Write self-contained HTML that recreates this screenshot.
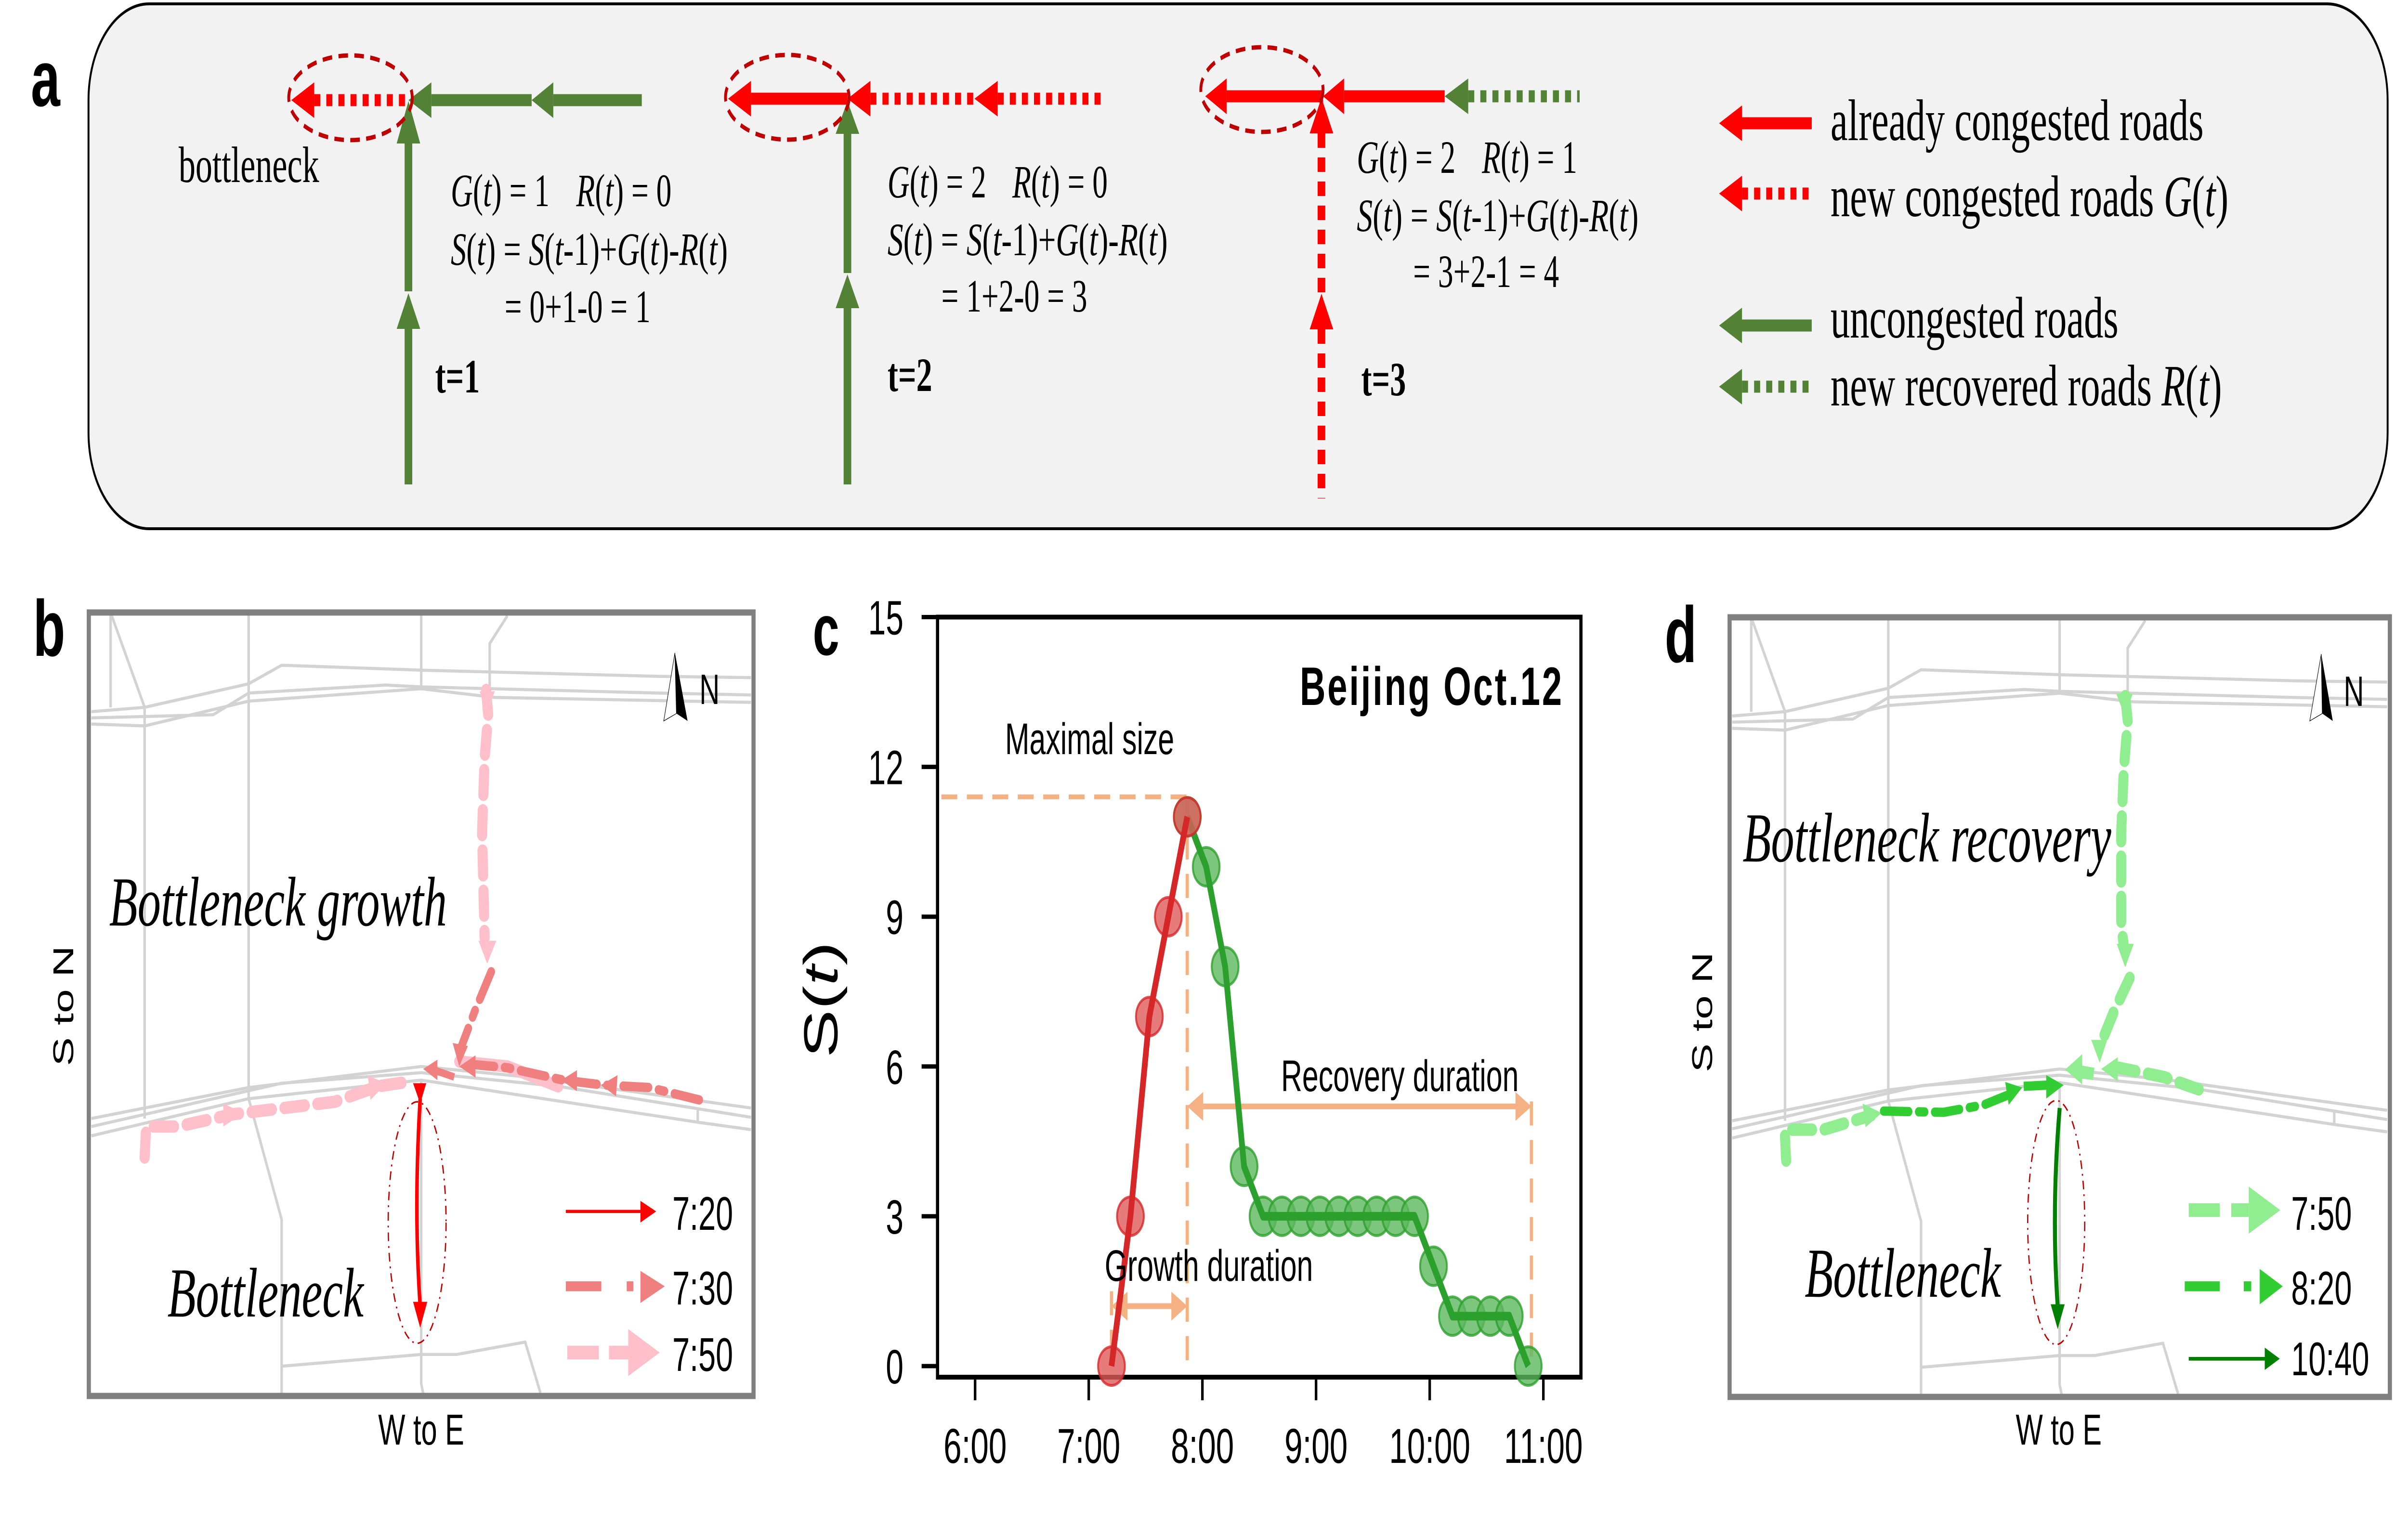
<!DOCTYPE html>
<html><head><meta charset="utf-8"><style>
html,body{margin:0;padding:0;background:#fff;width:100%;height:100%;overflow:hidden;}
svg{display:block;width:100vw;height:100vh;}
.serif{font-family:"Liberation Serif",serif;}
.sans{font-family:"Liberation Sans",sans-serif;}
</style></head><body>
<svg id="fig" viewBox="0 0 7564 3167" preserveAspectRatio="none" xmlns="http://www.w3.org/2000/svg">
<rect x="0" y="0" width="7564" height="3167" fill="#fff"/>

<!-- ============ PANEL A ============ -->
<g>
<text x="97" y="220" class="sans" font-weight="bold" font-size="165">a</text>
<rect x="278" y="8" width="7222" height="1090" rx="190" ry="200" fill="#f2f2f2" stroke="#000" stroke-width="6"/>

<g>
<line x1="1283" y1="298" x2="1283" y2="605" stroke="#538135" stroke-width="24"/>
<polygon points="1283,210 1246,298 1320,298" fill="#538135"/>
<line x1="1283" y1="683" x2="1283" y2="1006" stroke="#538135" stroke-width="24"/>
<polygon points="1283,609 1246,683 1320,683" fill="#538135"/>
<line x1="1355" y1="208" x2="1670" y2="208" stroke="#538135" stroke-width="25"/>
<polygon points="1283,208 1355,171 1355,245" fill="#538135"/>
<line x1="1738" y1="208" x2="2016" y2="208" stroke="#538135" stroke-width="25"/>
<polygon points="1670,208 1738,171 1738,245" fill="#538135"/>
<line x1="987" y1="208" x2="1283" y2="208" stroke="#ff0000" stroke-width="25" stroke-dasharray="19 19"/>
<polygon points="915,208 987,171 987,245" fill="#ff0000"/>
<ellipse cx="1101" cy="203" rx="194" ry="88" fill="none" stroke="#c00000" stroke-width="9" stroke-dasharray="30 20"/>
<text x="561" y="378" class="serif" font-size="106">bottleneck</text>
<text x="1416" y="428" class="serif" font-size="96"><tspan font-style="italic">G</tspan>(<tspan font-style="italic">t</tspan>) = 1<tspan x="1810" font-style="italic">R</tspan>(<tspan font-style="italic">t</tspan>) = 0</text>
<text x="1416" y="550" class="serif" font-size="96" textLength="870" lengthAdjust="spacingAndGlyphs"><tspan font-style="italic">S</tspan>(<tspan font-style="italic">t</tspan>) = <tspan font-style="italic">S</tspan>(<tspan font-style="italic">t</tspan>-1)+<tspan font-style="italic">G</tspan>(<tspan font-style="italic">t</tspan>)-<tspan font-style="italic">R</tspan>(<tspan font-style="italic">t</tspan>)</text>
<text x="1585" y="669" class="serif" font-size="96">= 0+1-0 = 1</text>
<text x="1367" y="815" class="serif" font-size="100" font-weight="bold">t=1</text>
</g>

<g>
<line x1="2662" y1="278" x2="2662" y2="567" stroke="#538135" stroke-width="24"/>
<polygon points="2662,210 2625,278 2699,278" fill="#538135"/>
<line x1="2662" y1="640" x2="2662" y2="1006" stroke="#538135" stroke-width="24"/>
<polygon points="2662,570 2625,640 2699,640" fill="#538135"/>
<line x1="2359" y1="205" x2="2662" y2="205" stroke="#ff0000" stroke-width="25"/>
<polygon points="2287,205 2359,168 2359,242" fill="#ff0000"/>
<line x1="2734" y1="205" x2="3061" y2="205" stroke="#ff0000" stroke-width="25" stroke-dasharray="19 19"/>
<polygon points="2662,205 2734,168 2734,242" fill="#ff0000"/>
<line x1="3134" y1="205" x2="3473" y2="205" stroke="#ff0000" stroke-width="25" stroke-dasharray="19 19"/>
<polygon points="3061,205 3134,168 3134,242" fill="#ff0000"/>
<ellipse cx="2473" cy="202" rx="194" ry="88" fill="none" stroke="#c00000" stroke-width="9" stroke-dasharray="30 20"/>
<text x="2788" y="410" class="serif" font-size="96"><tspan font-style="italic">G</tspan>(<tspan font-style="italic">t</tspan>) = 2<tspan x="3180" font-style="italic">R</tspan>(<tspan font-style="italic">t</tspan>) = 0</text>
<text x="2788" y="530" class="serif" font-size="96" textLength="880" lengthAdjust="spacingAndGlyphs"><tspan font-style="italic">S</tspan>(<tspan font-style="italic">t</tspan>) = <tspan font-style="italic">S</tspan>(<tspan font-style="italic">t</tspan>-1)+<tspan font-style="italic">G</tspan>(<tspan font-style="italic">t</tspan>)-<tspan font-style="italic">R</tspan>(<tspan font-style="italic">t</tspan>)</text>
<text x="2957" y="647" class="serif" font-size="96">= 1+2-0 = 3</text>
<text x="2788" y="812" class="serif" font-size="100" font-weight="bold">t=2</text>
</g>

<g>
<line x1="4151" y1="277" x2="4151" y2="610" stroke="#ff0000" stroke-width="24" stroke-dasharray="30 20"/>
<polygon points="4151,203 4114,277 4188,277" fill="#ff0000"/>
<line x1="4151" y1="684" x2="4151" y2="1035" stroke="#ff0000" stroke-width="24" stroke-dasharray="30 20"/>
<polygon points="4151,610 4114,684 4188,684" fill="#ff0000"/>
<line x1="3853" y1="200" x2="4156" y2="200" stroke="#ff0000" stroke-width="25"/>
<polygon points="3786,200 3853,163 3853,237" fill="#ff0000"/>
<line x1="4222" y1="200" x2="4538" y2="200" stroke="#ff0000" stroke-width="25"/>
<polygon points="4156,200 4222,163 4222,237" fill="#ff0000"/>
<line x1="4612" y1="200" x2="4962" y2="200" stroke="#538135" stroke-width="25" stroke-dasharray="19 19"/>
<polygon points="4538,200 4612,163 4612,237" fill="#538135"/>
<ellipse cx="3964" cy="186" rx="192" ry="88" fill="none" stroke="#c00000" stroke-width="9" stroke-dasharray="30 20"/>
<text x="4262" y="359" class="serif" font-size="96"><tspan font-style="italic">G</tspan>(<tspan font-style="italic">t</tspan>) = 2<tspan x="4655" font-style="italic">R</tspan>(<tspan font-style="italic">t</tspan>) = 1</text>
<text x="4262" y="480" class="serif" font-size="96" textLength="885" lengthAdjust="spacingAndGlyphs"><tspan font-style="italic">S</tspan>(<tspan font-style="italic">t</tspan>) = <tspan font-style="italic">S</tspan>(<tspan font-style="italic">t</tspan>-1)+<tspan font-style="italic">G</tspan>(<tspan font-style="italic">t</tspan>)-<tspan font-style="italic">R</tspan>(<tspan font-style="italic">t</tspan>)</text>
<text x="4439" y="596" class="serif" font-size="96">= 3+2-1 = 4</text>
<text x="4276" y="821" class="serif" font-size="100" font-weight="bold">t=3</text>
</g>

<g>
<g>
<line x1="5470" y1="256" x2="5691" y2="256" stroke="#ff0000" stroke-width="25"/>
<polygon points="5400,256 5472,219 5472,293" fill="#ff0000"/>
<text x="5750" y="291" class="serif" font-size="122">already congested roads</text></g>
<g>
<line x1="5472" y1="402" x2="5691" y2="402" stroke="#ff0000" stroke-width="25" stroke-dasharray="19 19"/>
<polygon points="5400,402 5472,365 5472,439" fill="#ff0000"/>
<text x="5750" y="449" class="serif" font-size="122">new congested roads <tspan font-style="italic">G</tspan>(<tspan font-style="italic">t</tspan>)</text></g>
<g>
<line x1="5470" y1="676" x2="5691" y2="676" stroke="#538135" stroke-width="25"/>
<polygon points="5400,676 5472,639 5472,713" fill="#538135"/>
<text x="5750" y="701" class="serif" font-size="122">uncongested roads</text></g>
<g>
<line x1="5472" y1="803" x2="5691" y2="803" stroke="#538135" stroke-width="25" stroke-dasharray="19 19"/>
<polygon points="5400,803 5472,766 5472,840" fill="#538135"/>
<text x="5750" y="842" class="serif" font-size="122">new recovered roads <tspan font-style="italic">R</tspan>(<tspan font-style="italic">t</tspan>)</text></g>
</g>
</g>

<defs>
<g id="roads" fill="none" stroke="#d3d3d3" stroke-width="5">
<polyline points="180,255 285,248 490,210 555,180 830,188 1300,198 1480,200"/>
<polyline points="180,265 420,260 490,225 760,212 830,215 1300,225 1480,228"/>
<polyline points="180,275 285,278 490,238 830,218 975,232 1480,240"/>
<polyline points="180,912 490,862 830,828 1040,845 1480,895"/>
<polyline points="180,925 555,855 830,838 1100,860 1480,910"/>
<polyline points="180,940 490,880 830,850 1375,918 1480,930"/>
<polyline points="218,95 218,248"/>
<polyline points="218,95 285,248 285,912"/>
<polyline points="490,95 490,880"/>
<polyline points="830,95 830,215"/>
<polyline points="830,850 830,1340 835,1360"/>
<polyline points="490,880 555,1075 555,1360"/>
<polyline points="1000,100 965,145 965,232"/>
<polyline points="1375,895 1375,918"/>
<polyline points="555,1312 830,1293 900,1293 1035,1273 1065,1355"/>
</g>
</defs>

<!-- ============ PANEL B ============ -->
<g>
<text x="104" y="1362" class="sans" font-weight="bold" font-size="165">b</text>
<g transform="translate(0,1150) scale(1.594,1.286)">
<use href="#roads"/>
<g fill="#ffc0cb">
<path d="M958,220 L962,260 L955,330 L950,450 L955,620" fill="none" stroke="#ffc0cb" stroke-width="20" stroke-dasharray="40 25" stroke-linecap="round"/>
<polygon points="945,222 975,222 960,255"/>
<polygon points="943,625 978,625 960,662"/>
<path d="M285,975 L288,925 L350,925 L460,905 L560,895 L660,885 L745,860 L810,852" fill="none" stroke="#ffc0cb" stroke-width="20" stroke-dasharray="40 25" stroke-linecap="round"/>
<polygon points="440,888 440,925 480,903"/>
<polygon points="725,843 730,882 762,855"/>
<path d="M905,820 L1000,828 L1100,860" fill="none" stroke="#ffc0cb" stroke-width="20" stroke-linecap="round"/>
</g>
<g fill="#f08080">
<path d="M968,675 L935,740 L905,805" fill="none" stroke="#f08080" stroke-width="15" stroke-dasharray="50 20 12 20" stroke-linecap="round"/>
<polygon points="892,790 922,795 905,828"/>
<path d="M1378,882 L1280,862 L1190,858 L1110,850 L1000,830 L935,825" fill="none" stroke="#f08080" stroke-width="15" stroke-dasharray="50 20 12 20" stroke-linecap="round"/>
<polygon points="1137,834 1137,868 1106,850"/>
<polygon points="1217,842 1214,876 1184,858"/>
<polygon points="937,810 937,846 905,828"/>
<path d="M895,845 L860,835" fill="none" stroke="#f08080" stroke-width="12"/>
<polygon points="862,817 862,850 834,832"/>
</g>
<g fill="#ff0000">
<path d="M828,880 Q815,1060 828,1215" fill="none" stroke="#ff0000" stroke-width="7"/>
<polygon points="814,1208 842,1208 828,1250"/>
<polygon points="814,855 840,855 828,888"/>
</g>
<ellipse cx="822" cy="1080" rx="57" ry="195" fill="none" stroke="#c00000" stroke-width="2.5" stroke-dasharray="14 8 3 8"/>
<g>
<polygon points="1330,160 1308,270 1333,258" fill="#fff" stroke="#000" stroke-width="1"/>
<polygon points="1330,160 1333,258 1355,270" fill="#000"/>
</g>
<g>
<line x1="1115" y1="1062" x2="1265" y2="1062" stroke="#ff0000" stroke-width="5"/>
<polygon points="1262,1045 1262,1080 1293,1062" fill="#ff0000"/>
<line x1="1115" y1="1183" x2="1185" y2="1183" stroke="#f08080" stroke-width="16"/>
<line x1="1235" y1="1183" x2="1248" y2="1183" stroke="#f08080" stroke-width="16"/>
<polygon points="1262,1158 1262,1210 1310,1183" fill="#f08080"/>
<line x1="1118" y1="1290" x2="1180" y2="1290" stroke="#ffc0cb" stroke-width="22"/>
<line x1="1200" y1="1290" x2="1240" y2="1290" stroke="#ffc0cb" stroke-width="22"/>
<polygon points="1238,1252 1238,1328 1300,1290" fill="#ffc0cb"/>
</g>
</g>
<rect x="279" y="1272" width="2088" height="1627" fill="none" stroke="#808080" stroke-width="13"/>
<text x="2197" y="1462" class="sans" font-size="88">N</text>
<text x="343" y="1922" class="serif" font-style="italic" font-size="146">Bottleneck growth</text>
<text x="526" y="2734" class="serif" font-style="italic" font-size="146">Bottleneck</text>
<text x="2112" y="2554" class="sans" font-size="98">7:20</text>
<text x="2112" y="2709" class="sans" font-size="98">7:30</text>
<text x="2112" y="2847" class="sans" font-size="98">7:50</text>
<text x="1323" y="3000" class="sans" font-size="90" text-anchor="middle">W to E</text>
<text transform="translate(230,2089) rotate(-90)" class="sans" font-size="90" text-anchor="middle">S to N</text>
</g>

<!-- ============ PANEL D ============ -->
<g>
<text x="5229" y="1375" class="sans" font-weight="bold" font-size="165">d</text>
<g transform="translate(5433,1282) scale(0.993,0.995) translate(-279,-1272) translate(0,1150) scale(1.594,1.286)">
<use href="#roads"/>
</g>
<g transform="translate(5100,1150) scale(1.571,1.286)">
<g fill="#90ee90">
<path d="M1003,230 L1008,270 L1000,350 L995,450 L995,600 L1000,632" fill="none" stroke="#90ee90" stroke-width="20" stroke-dasharray="40 25" stroke-linecap="round"/>
<polygon points="985,226 1018,226 1002,262"/>
<polygon points="986,630 1020,630 1003,668"/>
<path d="M1012,685 L980,740 L955,790" fill="none" stroke="#90ee90" stroke-width="20" stroke-dasharray="40 25" stroke-linecap="round"/>
<polygon points="935,785 967,785 952,822"/>
<path d="M1150,865 L1080,845 L990,830 L975,832" fill="none" stroke="#90ee90" stroke-width="20" stroke-dasharray="40 25" stroke-linecap="round"/>
<polygon points="988,813 988,852 955,832"/>
<path d="M940,840 L905,835" fill="none" stroke="#90ee90" stroke-width="20"/>
<polygon points="917,808 917,857 883,833"/>
<path d="M325,980 L322,930 L400,930 L495,907" fill="none" stroke="#90ee90" stroke-width="20" stroke-dasharray="40 25" stroke-linecap="round"/>
<polygon points="478,888 484,926 516,903"/>
</g>
<g fill="#32cd32">
<path d="M520,900 L640,902 L720,890 L775,872" fill="none" stroke="#32cd32" stroke-width="15" stroke-dasharray="50 20 12 20" stroke-linecap="round"/>
<polygon points="763,853 770,890 797,862"/>
<path d="M800,860 L850,858" fill="none" stroke="#32cd32" stroke-width="15"/>
<polygon points="845,842 845,880 880,858"/>
</g>
<g fill="#008000">
<path d="M872,895 Q855,1060 868,1215" fill="none" stroke="#008000" stroke-width="8"/>
<polygon points="854,1212 882,1212 868,1252"/>
</g>
<ellipse cx="865" cy="1080" rx="57" ry="197" fill="none" stroke="#c00000" stroke-width="2.5" stroke-dasharray="14 8 3 8"/>
<g>
<polygon points="1395,162 1372,270 1397,258" fill="#fff" stroke="#000" stroke-width="1"/>
<polygon points="1395,162 1397,258 1418,270" fill="#000"/>
</g>
<g>
<line x1="1130" y1="1060" x2="1192" y2="1060" stroke="#90ee90" stroke-width="22"/>
<line x1="1215" y1="1060" x2="1250" y2="1060" stroke="#90ee90" stroke-width="22"/>
<polygon points="1250,1022 1250,1098 1313,1060" fill="#90ee90"/>
<line x1="1122" y1="1183" x2="1192" y2="1183" stroke="#32cd32" stroke-width="16"/>
<line x1="1240" y1="1183" x2="1255" y2="1183" stroke="#32cd32" stroke-width="16"/>
<polygon points="1272,1155 1272,1212 1318,1183" fill="#32cd32"/>
<line x1="1130" y1="1300" x2="1285" y2="1300" stroke="#008000" stroke-width="6"/>
<polygon points="1282,1282 1282,1318 1312,1300" fill="#008000"/>
</g>
</g>
<rect x="5433" y="1282" width="2074" height="1619" fill="none" stroke="#808080" stroke-width="13"/>
<text x="7362" y="1466" class="sans" font-size="88">N</text>
<text x="5474" y="1789" class="serif" font-style="italic" font-size="146">Bottleneck recovery</text>
<text x="5669" y="2693" class="serif" font-style="italic" font-size="146">Bottleneck</text>
<text x="7197" y="2554" class="sans" font-size="98">7:50</text>
<text x="7197" y="2709" class="sans" font-size="98">8:20</text>
<text x="7197" y="2856" class="sans" font-size="98">10:40</text>
<text x="6467" y="3000" class="sans" font-size="90" text-anchor="middle">W to E</text>
<text transform="translate(5378,2102) rotate(-90)" class="sans" font-size="90" text-anchor="middle">S to N</text>
</g>

<!-- ============ PANEL C ============ -->
<g id="panelC">
<text x="2553" y="1360" class="sans" font-weight="bold" font-size="150">c</text>
</g>
</svg>
<script>
var yTicks = [0, 3, 6, 9, 12, 15];
var xTickLabels = ["6:00", "7:00", "8:00", "9:00", "10:00", "11:00"];
var growthTimes = ["7:12", "7:22", "7:32", "7:42", "7:52"];
var growthValues = [0, 3, 7, 9, 11];
var recoveryTimes = ["7:52","8:02","8:12","8:22","8:32","8:42","8:52","9:02","9:12","9:22","9:32","9:42","9:52","10:02","10:12","10:22","10:32","10:42","10:52"];
var recoveryValues = [11, 10, 8, 4, 3, 3, 3, 3, 3, 3, 3, 3, 3, 2, 1, 1, 1, 1, 0];
var maxLevel = 11.4;
var recoveryArrowLevel = 5.2;
var growthArrowLevel = 1.2;

var NS = "http://www.w3.org/2000/svg";
var g = document.getElementById("panelC");
function mins(s){ var p = s.split(":"); return (+p[0])*60 + (+p[1]); }
var X0 = 3063, PX_PER_H = 357, Y0 = 2837, PX_PER_U = 103.7;
function xOf(t){ return X0 + (mins(t) - 360) / 60 * PX_PER_H; }
function yOf(v){ return Y0 - v * PX_PER_U; }
function mk(tag, attrs, parent){
  var e = document.createElementNS(NS, tag);
  for (var k in attrs) e.setAttribute(k, attrs[k]);
  (parent || g).appendChild(e); return e;
}
var FL = 2945, FR = 4966, FT = yOf(15), FB = 2860;
var ORANGE = "#f4b183";

var fr = mk("rect", {x:FL, y:FT, width:FR-FL, height:FB-FT, fill:"none", stroke:"#000", "stroke-width":10});



yTicks.forEach(function(v){
  var y = yOf(v);
  var t = mk("line", {x1:FL-50, y1:y, x2:FL, y2:y, stroke:"#000", "stroke-width":9});
  
  
  var l = mk("text", {x:2838, y:y+36, "text-anchor":"end", "font-size":100, "font-family":"Liberation Sans, sans-serif"});
  l.textContent = v;
  
  
});
xTickLabels.forEach(function(s){
  var x = xOf(s);
  var t = mk("line", {x1:x, y1:FB, x2:x, y2:FB+48, stroke:"#000", "stroke-width":8});
  
  
  var l = mk("text", {x:x, y:3038, "text-anchor":"middle", "font-size":102, "font-family":"Liberation Sans, sans-serif"});
  l.textContent = s;
  
  
});
var yl = mk("text", {transform:"translate(2630,2076) rotate(-90)", "text-anchor":"middle", "font-size":150, "font-family":"Liberation Sans, sans-serif"});
yl.innerHTML = 'S(<tspan font-style="italic">t</tspan>)';



var peakX = xOf(growthTimes[growthTimes.length-1]);
var startX = xOf(growthTimes[0]);
var endX = xOf(recoveryTimes[recoveryTimes.length-1]);
var a1 = mk("line", {x1:FL+12, y1:yOf(maxLevel), x2:peakX, y2:yOf(maxLevel), stroke:ORANGE, "stroke-width":10, "stroke-dasharray":"50 30"});


var a2 = mk("line", {x1:peakX, y1:yOf(maxLevel), x2:peakX, y2:yOf(0), stroke:ORANGE, "stroke-width":10, "stroke-dasharray":"50 30"});


var a3 = mk("line", {x1:endX+10, y1:yOf(recoveryArrowLevel+0.1), x2:endX+10, y2:yOf(0), stroke:ORANGE, "stroke-width":10, "stroke-dasharray":"50 30"});


var a4 = mk("line", {x1:startX, y1:yOf(growthArrowLevel+0.3), x2:startX, y2:yOf(0), stroke:ORANGE, "stroke-width":10, "stroke-dasharray":"50 30"});


function dArrow(x1, x2, y, name){
  var grp = mk("g", {});
  
  
  mk("line", {x1:x1+40, y1:y, x2:x2-40, y2:y, stroke:ORANGE, "stroke-width":12}, grp);
  mk("polygon", {points:(x1)+","+y+" "+(x1+50)+","+(y-30)+" "+(x1+50)+","+(y+30), fill:ORANGE}, grp);
  mk("polygon", {points:(x2)+","+y+" "+(x2-50)+","+(y-30)+" "+(x2-50)+","+(y+30), fill:ORANGE}, grp);
}
dArrow(peakX, endX+10, yOf(recoveryArrowLevel), 'recovery-duration-arrow');
dArrow(startX, peakX, yOf(growthArrowLevel), 'growth-duration-arrow');

function series(times, vals, fill, edge, name){
  var grp = mk("g", {});
  
  
  times.forEach(function(t, i){
    var c = mk("ellipse", {cx:xOf(t), cy:yOf(vals[i]), rx:42, ry:40, fill:fill, "fill-opacity":0.8, stroke:edge, "stroke-width":6, "stroke-opacity":0.8}, grp);
    
    
  });
  var pts = times.map(function(t, i){ return xOf(t) + "," + yOf(vals[i]); }).join(" ");
  var pl = mk("polyline", {points:pts, fill:"none", stroke:edge, "stroke-width":18, "stroke-linejoin":"round"}, grp);
  
  
}
series(recoveryTimes, recoveryValues, "#5cb85c", "#2ca02c", 'recovery-series');
series(growthTimes, growthValues, "#e05a5b", "#d62728", 'growth-series');

function txt(x, y, s, size, bold, name){
  var t = mk("text", {x:x, y:y, "font-size":size, "font-family":"Liberation Sans, sans-serif", "font-weight": bold ? "bold" : "normal"});
  t.textContent = s;
  
  
  return t;
}
var ttl = txt(4083, 1464, "Beijing Oct.12", 112, true, 'chart-title');
ttl.setAttribute("textLength", 823);
txt(3157, 1566, "Maximal size", 92, false, 'maximal-size-label');
txt(4024, 2266, "Recovery duration", 92, false, 'recovery-duration-label');
txt(3470, 2660, "Growth duration", 92, false, 'growth-duration-label');
</script>
</body></html>
